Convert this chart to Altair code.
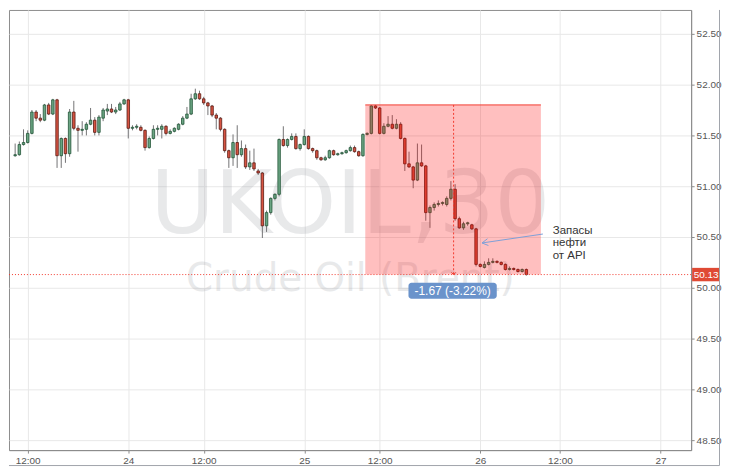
import altair as alt
import pandas as pd

# ---------------- data (30-minute candles, index counted from the 12:00 bar of day 23) ----------------
first_bar = -3
opens = [51.30, 51.31, 51.41, 51.43, 51.52, 51.73, 51.67, 51.65, 51.80, 51.71,
         51.85, 51.30, 51.47, 51.32, 51.73, 51.57, 51.55, 51.56, 51.61, 51.65,
         51.53, 51.67, 51.74, 51.76, 51.73, 51.75, 51.81, 51.85, 51.57, 51.58,
         51.58, 51.55, 51.38, 51.47, 51.56, 51.56, 51.59, 51.52, 51.54, 51.56,
         51.61, 51.67, 51.71, 51.86, 51.91, 51.86, 51.82, 51.79, 51.70, 51.67,
         51.56, 51.35, 51.28, 51.43, 51.31, 51.37, 51.19, 51.23, 51.15, 51.13,
         50.61, 50.74, 50.88, 50.92, 51.46, 51.40, 51.46, 51.49, 51.37, 51.41,
         51.49, 51.37, 51.35, 51.28, 51.26, 51.28, 51.35, 51.31, 51.32, 51.33,
         51.35, 51.38, 51.34, 51.30, 51.51, 51.52, 51.79, 51.77, 51.52, 51.59,
         51.61, 51.57, 51.61, 51.47, 51.22, 51.19, 51.06, 51.23, 51.20, 50.74,
         50.79, 50.82, 50.83, 50.82, 50.88, 50.97, 50.68, 50.59, 50.63, 50.62,
         50.58, 50.23, 50.20, 50.23, 50.25, 50.26, 50.25, 50.23, 50.18, 50.19,
         50.18, 50.16, 50.18]
highs = [51.42, 51.44, 51.56, 51.55, 51.75, 51.75, 51.71, 51.81, 51.82, 51.86,
         51.86, 51.48, 51.48, 51.76, 51.84, 51.60, 51.64, 51.63, 51.77, 51.68,
         51.70, 51.77, 51.81, 51.81, 51.78, 51.83, 51.86, 51.86, 51.60, 51.61,
         51.60, 51.56, 51.49, 51.60, 51.60, 51.61, 51.60, 51.56, 51.58, 51.62,
         51.69, 51.78, 51.91, 51.96, 51.94, 51.88, 51.83, 51.80, 51.72, 51.68,
         51.57, 51.36, 51.51, 51.60, 51.45, 51.41, 51.35, 51.37, 51.17, 51.14,
         50.76, 50.89, 50.93, 51.47, 51.59, 51.47, 51.52, 51.52, 51.42, 51.56,
         51.50, 51.38, 51.36, 51.29, 51.30, 51.36, 51.36, 51.33, 51.34, 51.36,
         51.40, 51.40, 51.35, 51.52, 51.53, 51.80, 51.80, 51.78, 51.62, 51.69,
         51.70, 51.66, 51.63, 51.48, 51.34, 51.20, 51.42, 51.41, 51.21, 50.81,
         50.84, 50.86, 50.85, 50.90, 51.05, 51.02, 50.70, 50.65, 50.65, 50.63,
         50.59, 50.24, 50.26, 50.29, 50.29, 50.27, 50.26, 50.24, 50.21, 50.20,
         50.19, 50.19, 50.19]
lows = [51.29, 51.30, 51.40, 51.42, 51.51, 51.64, 51.63, 51.64, 51.70, 51.70,
        51.18, 51.18, 51.23, 51.29, 51.55, 51.34, 51.50, 51.50, 51.60, 51.50,
        51.50, 51.64, 51.70, 51.72, 51.71, 51.74, 51.80, 51.47, 51.55, 51.56,
        51.54, 51.35, 51.37, 51.46, 51.50, 51.47, 51.50, 51.51, 51.53, 51.55,
        51.60, 51.66, 51.70, 51.85, 51.85, 51.80, 51.70, 51.68, 51.56, 51.54,
        51.33, 51.18, 51.20, 51.18, 51.29, 51.17, 51.16, 51.15, 51.11, 50.49,
        50.55, 50.72, 50.86, 50.90, 51.39, 51.38, 51.45, 51.36, 51.35, 51.40,
        51.36, 51.33, 51.26, 51.25, 51.25, 51.27, 51.30, 51.30, 51.31, 51.32,
        51.34, 51.33, 51.29, 51.29, 51.50, 51.51, 51.76, 51.51, 51.51, 51.58,
        51.56, 51.56, 51.46, 51.15, 51.18, 50.98, 51.05, 51.19, 50.66, 50.59,
        50.76, 50.80, 50.81, 50.80, 50.86, 50.66, 50.58, 50.57, 50.61, 50.57,
        50.21, 50.20, 50.19, 50.22, 50.24, 50.24, 50.22, 50.17, 50.17, 50.17,
        50.15, 50.15, 50.12]
closes = [51.31, 51.41, 51.43, 51.52, 51.73, 51.67, 51.65, 51.80, 51.71, 51.85,
          51.30, 51.47, 51.32, 51.73, 51.57, 51.55, 51.56, 51.61, 51.65, 51.53,
          51.68, 51.75, 51.76, 51.73, 51.75, 51.81, 51.85, 51.57, 51.58, 51.59,
          51.55, 51.38, 51.47, 51.56, 51.57, 51.59, 51.52, 51.54, 51.57, 51.61,
          51.67, 51.71, 51.86, 51.91, 51.86, 51.82, 51.79, 51.70, 51.67, 51.56,
          51.35, 51.28, 51.43, 51.31, 51.37, 51.19, 51.23, 51.17, 51.13, 50.61,
          50.74, 50.88, 50.92, 51.46, 51.40, 51.46, 51.49, 51.37, 51.41, 51.49,
          51.37, 51.35, 51.28, 51.26, 51.28, 51.35, 51.31, 51.32, 51.33, 51.35,
          51.38, 51.34, 51.30, 51.51, 51.52, 51.79, 51.77, 51.52, 51.59, 51.61,
          51.57, 51.61, 51.47, 51.22, 51.19, 51.06, 51.23, 51.20, 50.74, 50.79,
          50.82, 50.83, 50.84, 50.88, 50.97, 50.68, 50.59, 50.63, 50.64, 50.58,
          50.23, 50.21, 50.23, 50.25, 50.26, 50.25, 50.23, 50.18, 50.19, 50.18,
          50.16, 50.18, 50.13]

time_ticks = [0, 24, 42, 66, 84, 108, 127, 151]
time_labels = ["12:00", "24", "12:00", "25", "12:00", "26", "12:00", "27"]
price_ticks = [48.5, 49.0, 49.5, 50.0, 50.5, 51.0, 51.5, 52.0, 52.5]

x_domain = [-3.28, 157.14]
y_domain = [48.402, 52.735]

measure_x = [80.56, 122.48]
measure_mid = 101.64
measure_high = 51.80
measure_low = closes[-1]
measure_text = "-1.67 (-3.22%)"
measure_box_x = [90.87, 111.94]
measure_box_y = [50.049, 49.892]

watermark_lines = ["UKOIL,30", "Crude Oil (Brent)"]
watermark_x = 77.0
watermark_y = [50.54, 49.97]
watermark_sizes = [88, 39]

note_lines = ["Запасы", "нефти", "от API"]
note_x = 125.3
note_y = [50.559, 50.436, 50.314]
arrow_x = [122.95, 108.43]
arrow_y = [50.529, 50.441]
head_x = [109.95, 108.43, 109.72]
head_y = [50.416, 50.441, 50.483]

# ---------------- chart ----------------
W, H = 685, 442
FONT = "Liberation Sans"
RED = "#f23a2e"

xs = alt.Scale(domain=x_domain, nice=False, zero=False)
ys = alt.Scale(domain=y_domain, nice=False, zero=False)

label_expr = "".join(f"datum.value == {p} ? '{l}' : " for p, l in zip(time_ticks, time_labels)) + "''"

x_axis = alt.Axis(values=time_ticks, labelExpr=label_expr, title=None, grid=True,
                  gridColor="#e8e8e8", domainColor="#8c8c8c", tickColor="#8c8c8c",
                  tickSize=3, labelColor="#555555", labelFontSize=10, labelFont=FONT,
                  labelPadding=2, labelFlush=False, labelOverlap=False)
y_axis = alt.Axis(orient="right", values=price_ticks, format=".2f", title=None, grid=True,
                  gridColor="#e8e8e8", domainColor="#8c8c8c", tickColor="#8c8c8c",
                  tickSize=3, labelColor="#555555", labelFontSize=10, labelFont=FONT,
                  labelPadding=2, labelFlush=False, labelOverlap=False)


def X(f):
    return alt.X(f, scale=xs, axis=x_axis)


def Y(f):
    return alt.Y(f, scale=ys, axis=y_axis)


candles = pd.DataFrame({
    "k": [first_bar + i for i in range(len(opens))],
    "o": opens, "h": highs, "l": lows, "c": closes,
})
candles["dir"] = ["up" if c >= o else "down" for o, c in zip(opens, closes)]

wm = pd.DataFrame({"t": watermark_lines, "x": [watermark_x] * 2, "y": watermark_y, "s": watermark_sizes})
watermark = alt.Chart(wm).mark_text(font="DejaVu Sans", align="center", baseline="alphabetic",
                                    color="#8f939c", opacity=0.2).encode(
    x=X("x:Q"), y=Y("y:Q"), text="t:N",
    size=alt.Size("s:Q", scale=None, legend=None),
)

wicks = alt.Chart(candles).mark_rule(color="#737375", strokeWidth=1, clip=True).encode(
    x=X("k:Q"), y=Y("l:Q"), y2="h:Q",
)
bodies = alt.Chart(candles).mark_bar(size=2.5, strokeWidth=0.8, clip=True).encode(
    x=X("k:Q"), y=Y("o:Q"), y2="c:Q",
    fill=alt.Fill("dir:N", scale=alt.Scale(domain=["up", "down"], range=["#6ba583", "#d75442"]), legend=None),
    stroke=alt.Stroke("dir:N", scale=alt.Scale(domain=["up", "down"], range=["#225437", "#5b1a13"]), legend=None),
)

mdf = pd.DataFrame({"x0": [measure_x[0]], "x1": [measure_x[1]], "hi": [measure_high], "lo": [measure_low],
                    "mid": [measure_mid]})
box = alt.Chart(mdf).mark_rect(color="#ff0000", opacity=0.25).encode(
    x=X("x0:Q"), x2="x1:Q", y=Y("hi:Q"), y2="lo:Q",
)
box_top = alt.Chart(mdf).mark_rule(color=RED, strokeWidth=1).encode(
    x=X("x0:Q"), x2="x1:Q", y=Y("hi:Q"),
)
box_mid = alt.Chart(mdf).mark_rule(color=RED, strokeWidth=1, strokeDash=[2, 2]).encode(
    x=X("mid:Q"), y=Y("hi:Q"), y2="lo:Q",
)
box_arrow = alt.Chart(mdf).mark_point(shape="M-1,-1L0,0L1,-1", filled=False, size=20, color=RED,
                                      strokeWidth=1, opacity=1).encode(
    x=X("mid:Q"), y=Y("lo:Q"),
)
price_line = alt.Chart(mdf).mark_rule(color=RED, strokeWidth=1, strokeDash=[1, 2]).encode(
    y=Y("lo:Q"),
)

lab = pd.DataFrame({"x0": [measure_box_x[0]], "x1": [measure_box_x[1]],
                    "y0": [measure_box_y[0]], "y1": [measure_box_y[1]],
                    "xc": [sum(measure_box_x) / 2], "yc": [sum(measure_box_y) / 2], "t": [measure_text]})
lab_rect = alt.Chart(lab).mark_rect(color="#6a93cb", cornerRadius=3).encode(
    x=X("x0:Q"), x2="x1:Q", y=Y("y0:Q"), y2="y1:Q",
)
lab_text = alt.Chart(lab).mark_text(color="white", fontSize=12, font=FONT, align="center",
                                    baseline="middle").encode(
    x=X("xc:Q"), y=Y("yc:Q"), text="t:N",
)

tag = pd.DataFrame({"v": [closes[-1]], "lo": [closes[-1] - 0.066], "hi": [closes[-1] + 0.066],
                    "t": [f"{closes[-1]:.2f}"]})
tag_rect = alt.Chart(tag).mark_rect(color="#df4a34", clip=False).encode(
    x=alt.value(W + 1), x2=alt.value(W + 29),
    y=Y("hi:Q"), y2="lo:Q",
)
tag_text = alt.Chart(tag).mark_text(color="white", fontSize=10, font=FONT, align="center",
                                    baseline="middle").encode(
    x=alt.value(W + 15), y=Y("v:Q"), text="t:N",
)

notes = pd.DataFrame({"t": note_lines, "x": [note_x] * 3, "y": note_y})
note_text = alt.Chart(notes).mark_text(align="left", baseline="middle", fontSize=11.5, font=FONT,
                                       color="#333333").encode(
    x=X("x:Q"), y=Y("y:Q"), text="t:N",
)
arrow_df = pd.DataFrame({"x": arrow_x, "y": arrow_y, "i": [0, 1]})
arrow = alt.Chart(arrow_df).mark_line(color="#7d9fd8", strokeWidth=1).encode(
    x=X("x:Q"), y=Y("y:Q"), order="i:Q",
)
head_df = pd.DataFrame({"x": head_x, "y": head_y, "i": [0, 1, 2]})
head = alt.Chart(head_df).mark_line(color="#7d9fd8", strokeWidth=1).encode(
    x=X("x:Q"), y=Y("y:Q"), order="i:Q",
)

frame_right = alt.Chart(mdf).mark_rule(color="#a0a4ab", strokeWidth=1, clip=False).encode(
    x=alt.value(W + 28.5), y=alt.value(0), y2=alt.value(H + 15.5),
)
frame_bottom = alt.Chart(mdf).mark_rule(color="#a0a4ab", strokeWidth=1, clip=False).encode(
    x=alt.value(0), x2=alt.value(W + 28.5), y=alt.value(H + 15.5),
)

chart = alt.layer(
    watermark, wicks, bodies, box, box_top, box_mid, box_arrow, price_line,
    lab_rect, lab_text, tag_rect, tag_text, arrow, head, note_text,
    frame_right, frame_bottom,
).properties(
    width=W, height=H, padding=0, background="white",
).configure_view(stroke="#8c8c8c", strokeWidth=1)

chart.save("out.html", embed_options={"renderer": "svg", "actions": False})
